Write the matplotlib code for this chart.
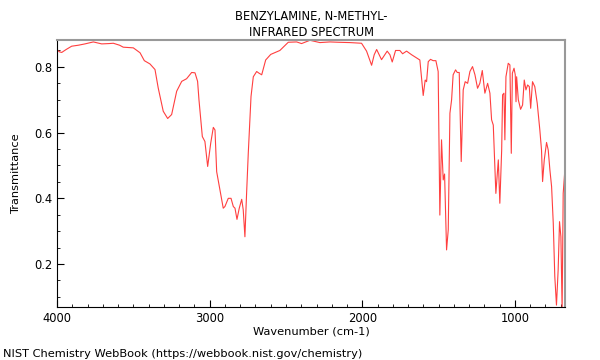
import matplotlib
matplotlib.use('Agg')
import matplotlib.pyplot as plt
from matplotlib.ticker import MultipleLocator

title = 'BENZYLAMINE, N-METHYL-\nINFRARED SPECTRUM'
credit = 'NIST Chemistry WebBook (https://webbook.nist.gov/chemistry)'

# spectrum (cm-1, transmittance)
wavenumber = [4000, 3985, 3969, 3940, 3904, 3860, 3817, 3762, 3707, 3660,
              3631, 3590, 3566, 3500, 3456, 3428, 3391, 3358, 3337, 3304,
              3275, 3249, 3216, 3183, 3151, 3118, 3096, 3079, 3070, 3048,
              3031, 3013, 2993, 2976, 2965, 2954, 2933, 2911, 2900, 2878,
              2860, 2845, 2834, 2821, 2806, 2790, 2780, 2769, 2758, 2747,
              2729, 2714, 2692, 2677, 2659, 2633, 2600, 2540, 2485, 2430,
              2398, 2343, 2278, 2212, 2158, 2081, 2005, 1972, 1939, 1922,
              1906, 1874, 1837, 1819, 1804, 1782, 1754, 1736, 1710, 1677,
              1644, 1623, 1612, 1601, 1588, 1579, 1568, 1553, 1536, 1518,
              1503, 1492, 1481, 1470, 1461, 1448, 1437, 1426, 1415, 1405,
              1389, 1378, 1365, 1352, 1339, 1326, 1310, 1295, 1278, 1262,
              1245, 1230, 1214, 1197, 1179, 1164, 1153, 1142, 1125, 1109,
              1099, 1087, 1081, 1072, 1066, 1059, 1044, 1033, 1024, 1017,
              1006, 998, 993, 989, 978, 963, 950, 939, 928, 917,
              906, 897, 885, 870, 854, 837, 826, 819, 808, 793,
              782, 771, 760, 749, 739, 728, 717, 708, 699, 691,
              684, 673]
transmittance = [0.853, 0.846, 0.844, 0.853, 0.863, 0.866, 0.870, 0.876, 0.870, 0.871,
                 0.872, 0.866, 0.860, 0.858, 0.843, 0.819, 0.809, 0.792, 0.736, 0.665,
                 0.643, 0.655, 0.726, 0.756, 0.764, 0.783, 0.782, 0.756, 0.700, 0.588,
                 0.573, 0.497, 0.568, 0.616, 0.608, 0.481, 0.426, 0.370, 0.375, 0.400,
                 0.400, 0.375, 0.370, 0.336, 0.370, 0.397, 0.365, 0.283, 0.415, 0.537,
                 0.710, 0.770, 0.786, 0.781, 0.776, 0.821, 0.838, 0.850, 0.875, 0.876,
                 0.871, 0.881, 0.874, 0.876, 0.875, 0.874, 0.872, 0.848, 0.805, 0.837,
                 0.853, 0.822, 0.848, 0.837, 0.815, 0.850, 0.850, 0.840, 0.848, 0.837,
                 0.827, 0.821, 0.766, 0.713, 0.760, 0.755, 0.816, 0.823, 0.819, 0.819,
                 0.786, 0.349, 0.578, 0.456, 0.474, 0.243, 0.304, 0.659, 0.700, 0.776,
                 0.791, 0.783, 0.783, 0.512, 0.730, 0.755, 0.750, 0.786, 0.801, 0.776,
                 0.735, 0.750, 0.789, 0.720, 0.750, 0.720, 0.639, 0.623, 0.415, 0.517,
                 0.385, 0.547, 0.715, 0.720, 0.578, 0.770, 0.811, 0.806, 0.537, 0.781,
                 0.796, 0.776, 0.694, 0.770, 0.700, 0.671, 0.684, 0.760, 0.730, 0.745,
                 0.740, 0.674, 0.755, 0.740, 0.689, 0.608, 0.547, 0.451, 0.517, 0.570,
                 0.547, 0.486, 0.436, 0.324, 0.162, 0.075, 0.182, 0.329, 0.283, 0.060,
                 0.415, 0.486]

fig = plt.figure(figsize=(6, 3.6), dpi=100)
ax = fig.add_axes([0.095, 0.147, 0.8467, 0.742])

ax.plot(wavenumber, transmittance, color='#ff2a2a', linewidth=0.8, alpha=0.9)

ax.set_xlim(4000, 672)
ax.set_ylim(0.069, 0.882)
ax.xaxis.set_major_locator(MultipleLocator(1000))
ax.xaxis.set_minor_locator(MultipleLocator(100))
ax.yaxis.set_major_locator(MultipleLocator(0.2))
ax.yaxis.set_minor_locator(MultipleLocator(0.05))
ax.tick_params(which='both', direction='in', labelsize=8.3, top=False, right=False)
ax.tick_params(which='major', length=5)
ax.tick_params(which='minor', length=2.5)

for side in ['top', 'right']:
    ax.spines[side].set_color('#999999')
    ax.spines[side].set_linewidth(1.5)
for side in ['left', 'bottom']:
    ax.spines[side].set_color('black')
    ax.spines[side].set_linewidth(0.8)

ax.set_xlabel('Wavenumber (cm-1)', fontsize=8.2, labelpad=1)
ax.set_ylabel('Transmittance', fontsize=8.2, labelpad=9)
ax.set_title(title, fontsize=8.3, linespacing=1.3, pad=3)
fig.text(0.005, 0.004, credit, fontsize=8.2, ha='left', va='bottom')

plt.savefig('out.png', dpi=100)
